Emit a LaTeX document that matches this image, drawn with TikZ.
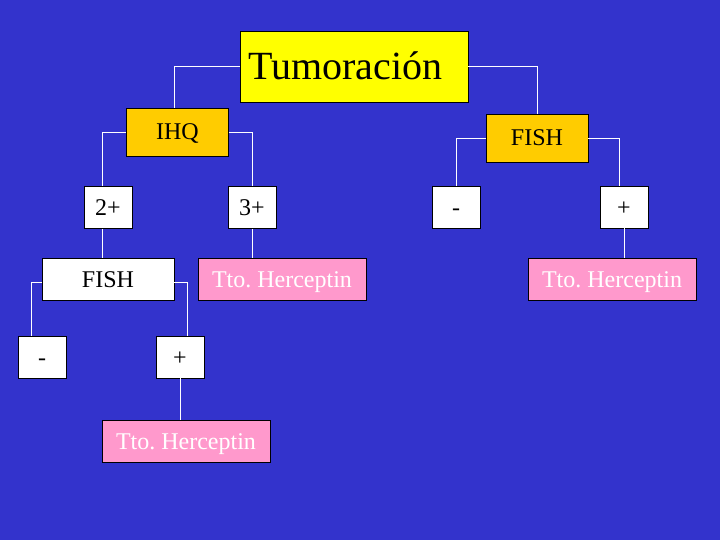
\documentclass[tikz,border=0pt]{standalone}
\usepackage{fontspec}
\setmainfont{Liberation Serif}
\usepackage{tikz}
\frenchspacing

\definecolor{bgblue}{RGB}{51,51,204}
\definecolor{boxyellow}{RGB}{255,255,0}
\definecolor{boxorange}{RGB}{255,204,0}
\definecolor{boxpink}{RGB}{255,153,204}

\tikzset{
  box/.style={draw=black, line width=0.9pt, inner sep=0pt, minimum height=42pt,
    text height=16pt, text depth=0pt, font=\fontsize{24}{28}\selectfont},
  small/.style={box, fill=white, minimum width=48pt},
  tto/.style={box, fill=boxpink, text=white, minimum width=168pt},
  test/.style={box, fill=boxorange, minimum width=102pt, minimum height=48pt},
  link/.style={white, line width=0.8pt}
}

\begin{document}
\begin{tikzpicture}[x=1pt,y=-1pt]
 \fill [bgblue] (0,0) rectangle (720,540); % 背景

 \node (tumor) at (354,66.5) [box, fill=boxyellow, minimum width=228pt, minimum height=71pt,
   text height=26.5pt, text width=212pt, inner xsep=8pt, align=left,
   font=\fontsize{40}{48}\selectfont] {Tumoración};

 \node (ihq) at (177.5,132) [test] {IHQ}; % 左の検査
 \node (fishB) at (537,138) [test] {FISH}; % 右の検査

 \node (two) at (108,207.5) [small] {2+};
 \node (three) at (252,207.5) [small] {3+};
 \node (minusB) at (456,207) [small] {-};
 \node (plusB) at (624,207) [small] {+};

 \node (fishA) at (108,279) [box, fill=white, minimum width=132pt] {FISH};
 \node (ttoA) at (282,279) [tto] {Tto. Herceptin};
 \node (ttoC) at (612,279) [tto] {Tto. Herceptin};

 \node (minusA) at (42,357) [small] {-};
 \node (plusA) at (180,357) [small] {+};
 \node (ttoB) at (186,441) [tto] {Tto. Herceptin};

 \draw [link] (tumor.west) -| ([xshift=-3pt]ihq.north);
 \draw [link] (tumor.east) -| (fishB.north);
 \draw [link] (ihq.west) -| ([xshift=-6pt]two.north);
 \draw [link] (ihq.east) -| (three.north);
 \draw [link] (fishB.west) -| (minusB.north);
 \draw [link] (fishB.east) -| ([xshift=-5pt]plusB.north);
 \draw [link] ([xshift=-6pt]two.south) -- ([xshift=-6pt]fishA.north);
 \draw [link] (three.south) -- (three.south |- ttoA.north);
 \draw [link] (plusB.south) -- (plusB.south |- ttoC.north);
 \draw [link] ([yshift=-3pt]fishA.west) -| ([xshift=-11pt]minusA.north);
 \draw [link] ([yshift=-3pt]fishA.east) -| ([xshift=7pt]plusA.north);
 \draw [link] (plusA.south) -- (plusA.south |- ttoB.north);
\end{tikzpicture}
\end{document}
